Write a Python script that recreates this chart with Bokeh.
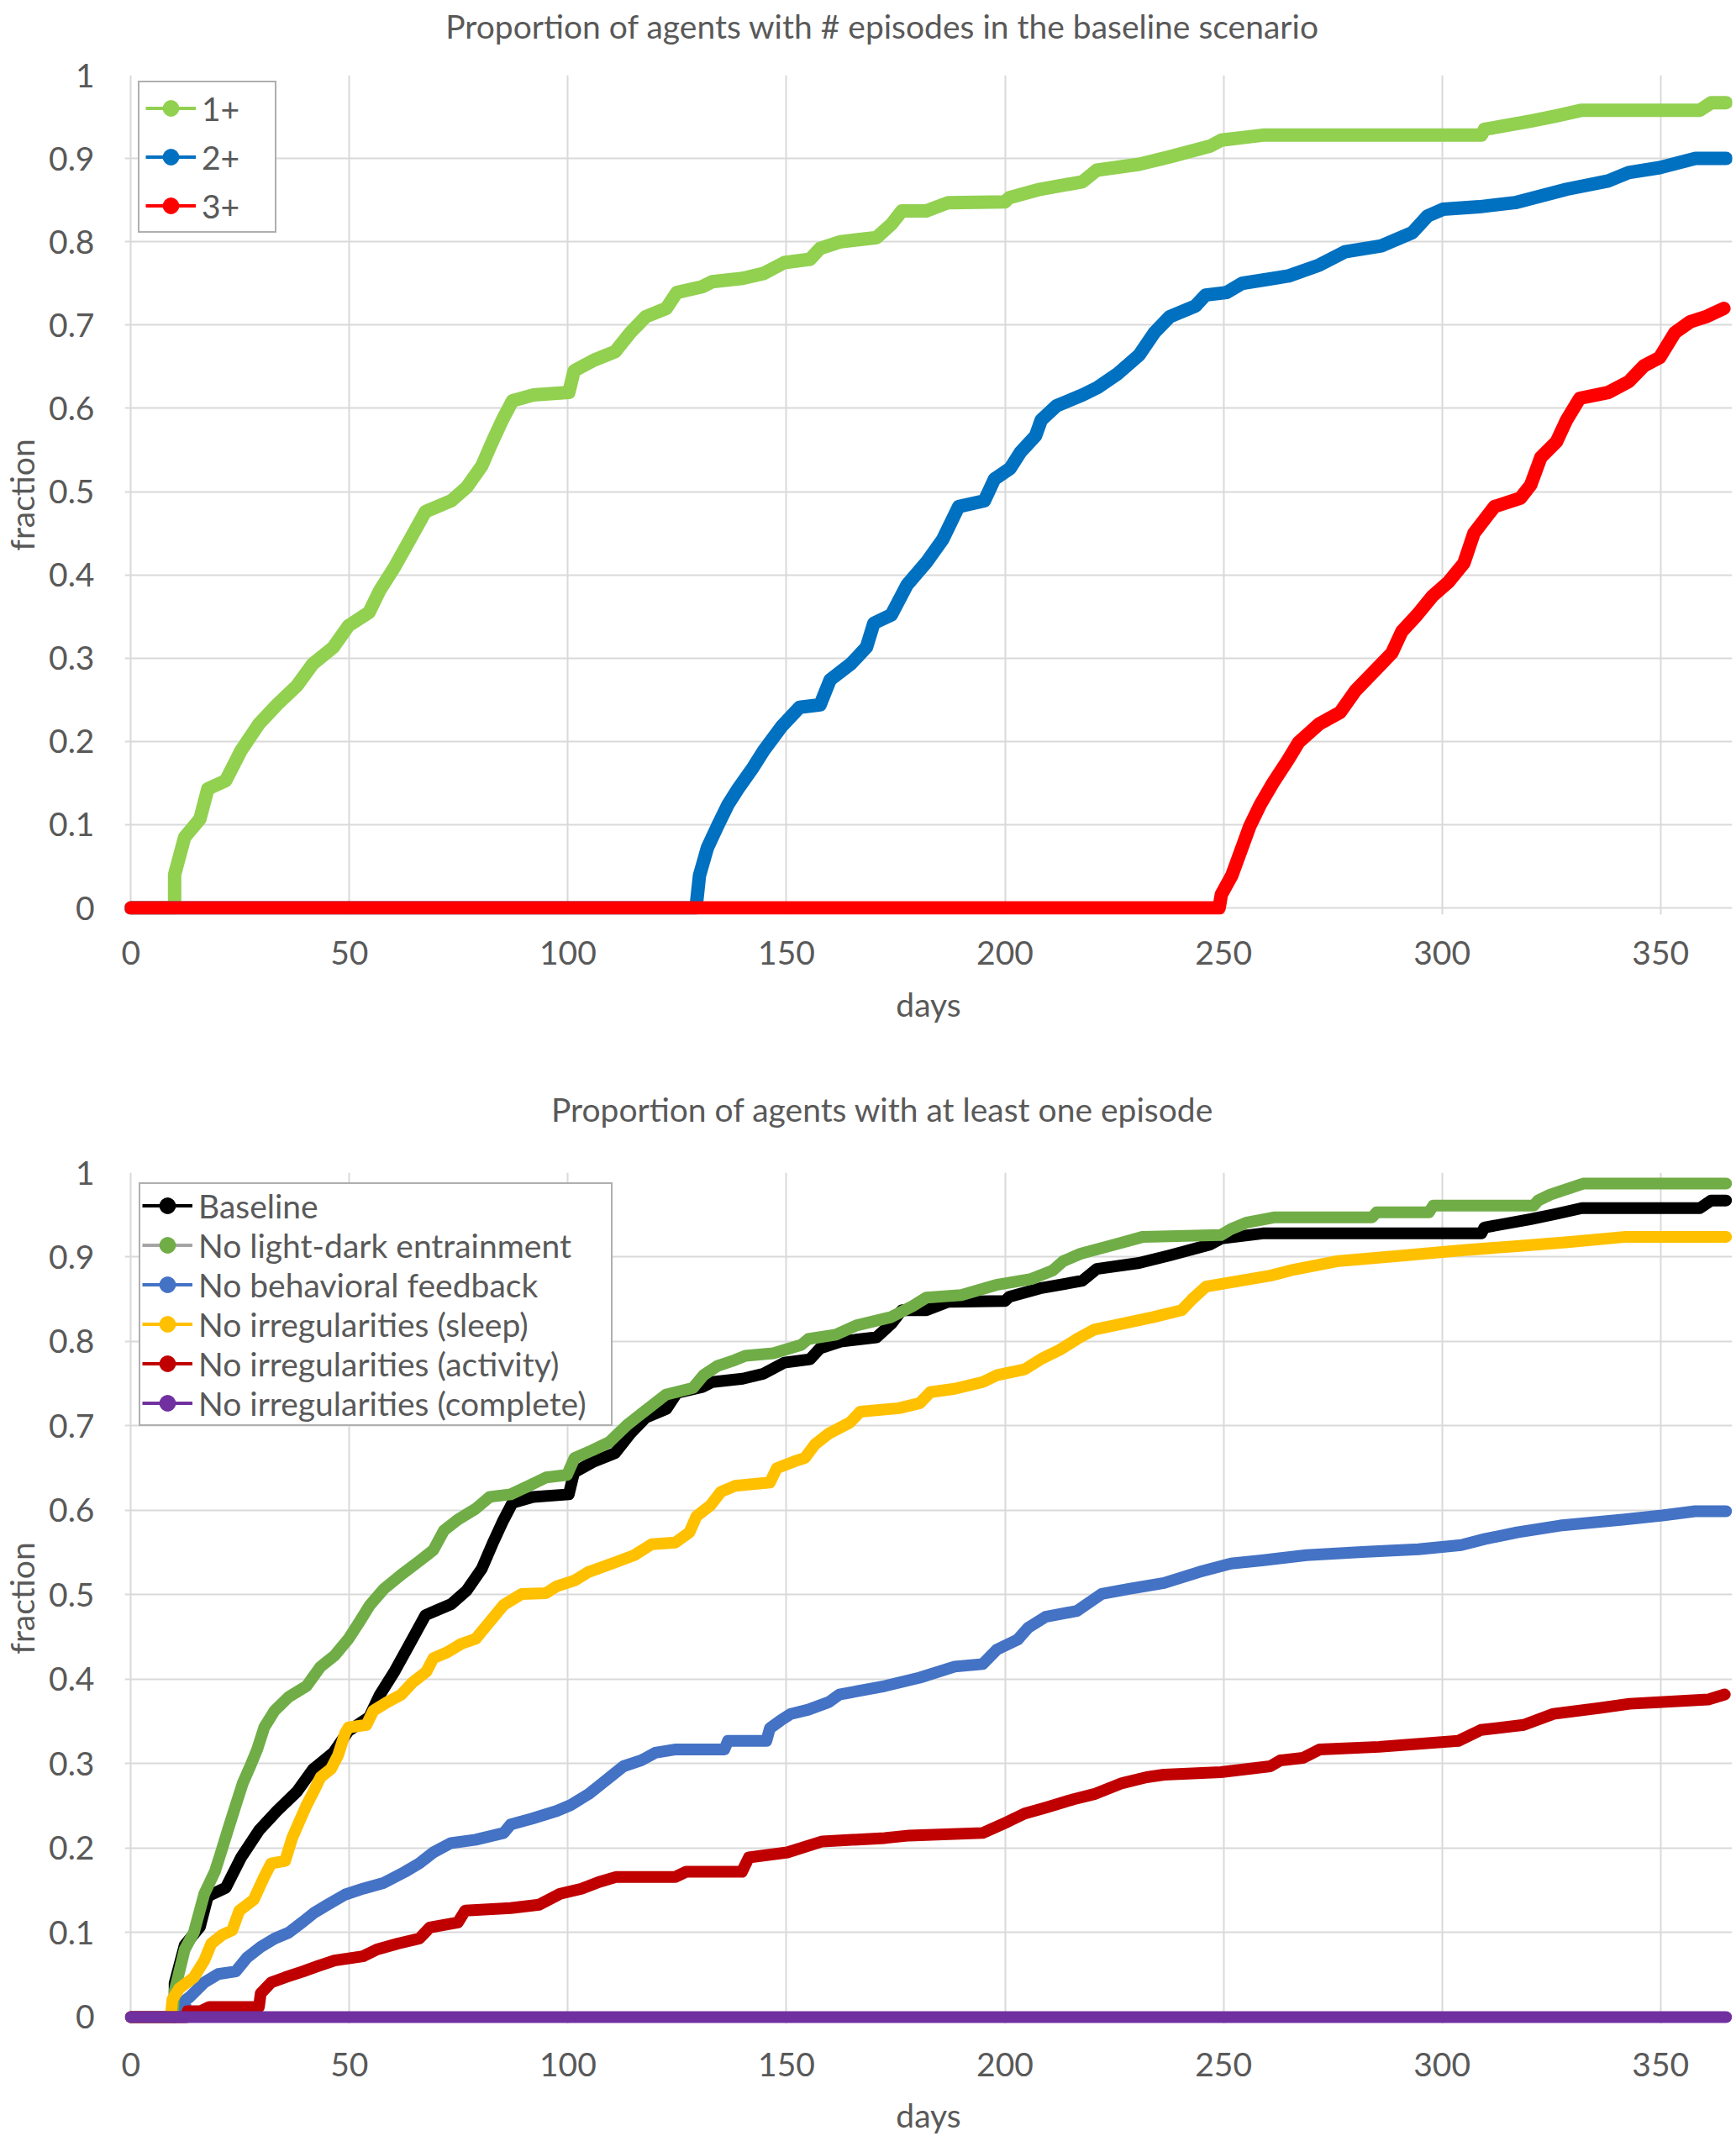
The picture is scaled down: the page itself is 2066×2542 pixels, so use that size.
from bokeh.plotting import figure
from bokeh.layouts import column
from bokeh.models import (FixedTicker, Legend, LegendItem, ColumnDataSource,
                          NumeralTickFormatter, Range1d, LinearAxis)
from bokeh.embed import file_html
from bokeh.resources import INLINE

# ---------------- data ----------------
# Top chart: baseline scenario, # episodes
ONE_PLUS_DAYS = [0, 10, 10, 12.3, 15.8, 17.6, 21.7, 25.2, 29.3, 33.4,
                 38, 41.6, 46.3, 49.8, 54.5, 56.9, 60.4, 63.9, 67.4, 73.3,
                 76.8, 80.3, 82.7, 85, 87.3, 92, 100.2, 101.4, 106, 110.8,
                 114.3, 117.8, 122.5, 124.9, 130.7, 133, 140, 144.8, 149.5, 155.4,
                 157.7, 162.4, 170.6, 174, 176.4, 182, 187, 200, 201, 208,
                 217.7, 221, 230.7, 237.7, 247, 249.5, 259, 309, 309.7, 320.3,
                 326, 332, 359, 361.6, 365]
ONE_PLUS_VALS = [0, 0, 0.04, 0.085, 0.107, 0.143, 0.153, 0.189, 0.221, 0.244,
                 0.267, 0.293, 0.313, 0.339, 0.355, 0.381, 0.410, 0.443, 0.476, 0.489,
                 0.505, 0.531, 0.560, 0.586, 0.609, 0.616, 0.619, 0.645, 0.658, 0.668,
                 0.691, 0.710, 0.720, 0.739, 0.746, 0.752, 0.756, 0.762, 0.775, 0.779,
                 0.792, 0.800, 0.805, 0.821, 0.837, 0.837, 0.847, 0.848, 0.853, 0.863,
                 0.872, 0.886, 0.893, 0.902, 0.915, 0.922, 0.928, 0.928, 0.935, 0.945,
                 0.951, 0.958, 0.958, 0.967, 0.967]

TWO_PLUS_DAYS = [0, 129.3, 130.1, 131.9, 134.2, 136.6, 138.9, 142.4, 144.8, 148.9,
                 153, 157.7, 160, 164.7, 168.3, 170, 174, 177.6, 182, 185.8,
                 189.4, 195.3, 197.6, 201.2, 203.5, 207, 208.3, 211.8, 217.7, 221.2,
                 225.9, 230.7, 234.2, 237.7, 243.6, 245.9, 250.7, 254.2, 264.9, 271.9,
                 277.8, 286.1, 293.2, 296.7, 300.2, 308.5, 316.7, 328.5, 338, 342.7,
                 349.8, 358, 365]
TWO_PLUS_VALS = [0, 0, 0.039, 0.072, 0.098, 0.124, 0.143, 0.169, 0.189, 0.218,
                 0.241, 0.244, 0.274, 0.293, 0.313, 0.342, 0.352, 0.388, 0.415, 0.443,
                 0.482, 0.489, 0.515, 0.528, 0.547, 0.567, 0.586, 0.603, 0.616, 0.625,
                 0.642, 0.664, 0.691, 0.710, 0.723, 0.736, 0.739, 0.750, 0.759, 0.772,
                 0.788, 0.795, 0.811, 0.831, 0.839, 0.842, 0.847, 0.863, 0.873, 0.883,
                 0.889, 0.900, 0.900]

THREE_PLUS_DAYS = [0, 249, 249.5, 251.9, 254.2, 256, 258.4, 261.3, 264.9, 267.2,
                   271.9, 276.7, 280.2, 283.7, 288.5, 290.8, 294.3, 297.9, 301.4, 305,
                   307.3, 312, 317.9, 320.3, 322.6, 326.2, 328.5, 331.5, 338, 342.7,
                   346.2, 349.8, 353.3, 356.8, 360.4, 364.5]
THREE_PLUS_VALS = [0, 0, 0.016, 0.039, 0.072, 0.098, 0.124, 0.150, 0.179, 0.199,
                   0.221, 0.235, 0.261, 0.280, 0.306, 0.332, 0.352, 0.375, 0.391, 0.414,
                   0.450, 0.482, 0.492, 0.508, 0.541, 0.560, 0.586, 0.612, 0.619, 0.632,
                   0.651, 0.661, 0.691, 0.704, 0.710, 0.720]

# Bottom chart: at least one episode, per scenario (Baseline = ONE_PLUS)
NO_LD_DAYS = [0, 10, 10, 12.3, 14.4, 16.8, 19.2, 20.8, 22.4, 24,
              25.6, 27.3, 28.9, 30.5, 32.9, 36.1, 40.2, 43.4, 46.6, 49.8,
              52.3, 54.7, 57.9, 61.9, 66, 69.2, 71.6, 74.8, 78.9, 82.1,
              86.9, 91, 95, 99.8, 101.5, 105.5, 109.5, 113.5, 118.4, 122.4,
              128.6, 131, 134.2, 138.2, 140.6, 147, 153.4, 155, 161.3, 166,
              174, 178.9, 182, 190, 198, 206, 210.9, 213.3, 217.3, 225.2,
              231.6, 249.4, 251.7, 255.4, 261.5, 284, 285, 297, 298, 321,
              322, 324.8, 332.3, 365]
NO_LD_VALS = [0, 0, 0.031, 0.080, 0.100, 0.146, 0.172, 0.198, 0.225, 0.251,
              0.277, 0.297, 0.317, 0.343, 0.363, 0.379, 0.392, 0.415, 0.428, 0.448,
              0.468, 0.488, 0.507, 0.524, 0.540, 0.553, 0.576, 0.589, 0.602, 0.616,
              0.619, 0.629, 0.639, 0.642, 0.662, 0.671, 0.681, 0.701, 0.721, 0.737,
              0.745, 0.760, 0.771, 0.778, 0.783, 0.786, 0.796, 0.803, 0.808, 0.819,
              0.829, 0.842, 0.852, 0.855, 0.867, 0.874, 0.884, 0.895, 0.904, 0.915,
              0.924, 0.926, 0.933, 0.941, 0.947, 0.947, 0.953, 0.953, 0.961, 0.961,
              0.967, 0.974, 0.987, 0.987]

NO_FB_DAYS = [0, 12.3, 12.5, 13.5, 16.8, 20, 24, 26.5, 29.7, 32.9,
              36.1, 39.4, 41.8, 45, 49, 53.1, 57.9, 62.7, 66, 69.2,
              73.2, 78.9, 85.3, 86.9, 91.8, 97.4, 100.6, 104.7, 107.9, 110.3,
              112.7, 116.8, 120, 124.7, 135.8, 136.6, 145.4, 146.2, 148.6, 151,
              155, 159.7, 162.1, 172.5, 180.5, 188.5, 194.9, 198.1, 202.9, 205.3,
              209.3, 216.5, 222.1, 228.4, 236.4, 244.4, 251.7, 259.2, 269, 282.6,
              294.6, 304.4, 309.7, 317.2, 327, 341.3, 350.4, 357.9, 365]
NO_FB_VALS = [0, 0, 0.020, 0.024, 0.041, 0.051, 0.054, 0.070, 0.083, 0.093,
              0.100, 0.113, 0.123, 0.133, 0.145, 0.152, 0.159, 0.172, 0.182, 0.195,
              0.206, 0.210, 0.218, 0.228, 0.235, 0.244, 0.251, 0.264, 0.277, 0.287,
              0.297, 0.304, 0.313, 0.317, 0.317, 0.327, 0.327, 0.342, 0.351, 0.359,
              0.364, 0.373, 0.382, 0.392, 0.402, 0.415, 0.418, 0.435, 0.447, 0.461,
              0.474, 0.481, 0.501, 0.507, 0.514, 0.527, 0.537, 0.541, 0.547, 0.551,
              0.554, 0.559, 0.566, 0.574, 0.582, 0.589, 0.594, 0.599, 0.599]

NO_SLEEP_DAYS = [0, 9.1, 9.5, 11.1, 14.4, 16.8, 18.4, 20.8, 23.2, 24.8,
                 28.1, 30.5, 32.1, 35.3, 36.9, 38.5, 40.2, 41.8, 43.4, 45.8,
                 47.4, 49, 49.8, 53.9, 55.5, 58.7, 61.9, 64.4, 67.6, 69.2,
                 72.4, 75.6, 78.9, 82.1, 85.3, 89.4, 95, 97.4, 101.5, 104.7,
                 111.1, 115.2, 119.2, 124.6, 127.8, 129.4, 132.6, 135, 138.2, 146.2,
                 147.8, 151.8, 154.2, 156.5, 159.7, 164.5, 166.9, 175.7, 180.5, 182.9,
                 188.5, 194.9, 198.1, 204.5, 208.5, 212.5, 216.5, 220.4, 226.8, 234,
                 240.4, 242.8, 246, 253.9, 260.7, 266, 275.8, 289.3, 304.4, 317.2,
                 329.3, 342.1, 365]
NO_SLEEP_VALS = [0, 0, 0.021, 0.034, 0.047, 0.067, 0.087, 0.097, 0.103, 0.126,
                 0.139, 0.166, 0.182, 0.185, 0.212, 0.231, 0.251, 0.267, 0.284, 0.294,
                 0.310, 0.336, 0.343, 0.346, 0.363, 0.373, 0.382, 0.396, 0.409, 0.425,
                 0.432, 0.442, 0.448, 0.468, 0.488, 0.501, 0.502, 0.510, 0.517, 0.527,
                 0.539, 0.547, 0.560, 0.562, 0.574, 0.593, 0.606, 0.622, 0.629, 0.633,
                 0.650, 0.658, 0.662, 0.678, 0.691, 0.704, 0.717, 0.721, 0.727, 0.740,
                 0.744, 0.752, 0.760, 0.767, 0.780, 0.790, 0.803, 0.814, 0.821, 0.829,
                 0.837, 0.850, 0.865, 0.872, 0.878, 0.885, 0.895, 0.901, 0.908, 0.913,
                 0.918, 0.924, 0.924]

NO_ACT_DAYS = [0, 12.7, 13, 16, 18, 29.3, 29.7, 32.1, 35.3, 39.4,
               42.6, 46.6, 53.1, 56.3, 61.1, 66, 68.4, 74.8, 76.5, 86.9,
               93.4, 98.2, 103.1, 107.1, 111.1, 124.6, 127, 139.8, 141.4, 150.2,
               158.2, 172.5, 178.1, 194.9, 200.5, 204.5, 209.3, 215.7, 220.4, 226.8,
               232.4, 236.4, 249.4, 260.7, 263, 268.2, 272, 285.6, 303.7, 308.9,
               318.7, 325.5, 336.1, 342.9, 360.9, 364.7]
NO_ACT_VALS = [0, 0, 0.007, 0.007, 0.012, 0.012, 0.028, 0.041, 0.047, 0.054,
               0.060, 0.067, 0.072, 0.080, 0.087, 0.093, 0.106, 0.112, 0.126, 0.129,
               0.133, 0.146, 0.152, 0.160, 0.166, 0.166, 0.172, 0.172, 0.189, 0.195,
               0.208, 0.212, 0.215, 0.218, 0.231, 0.241, 0.248, 0.258, 0.264, 0.277,
               0.284, 0.287, 0.290, 0.297, 0.304, 0.307, 0.317, 0.320, 0.327, 0.340,
               0.346, 0.359, 0.366, 0.371, 0.376, 0.382]

NO_ALL_DAYS = [0, 365]
NO_ALL_VALS = [0, 0]

X_TICKS = [0, 50, 100, 150, 200, 250, 300, 350]
Y_TICKS = [0, 0.1, 0.2, 0.3, 0.4, 0.5, 0.6, 0.7, 0.8, 0.9, 1.0]

TOP_TITLE = "Proportion of agents with # episodes in the baseline scenario"
BOTTOM_TITLE = "Proportion of agents with at least one episode"

TOP_SERIES = [
    ("1+", ONE_PLUS_DAYS, ONE_PLUS_VALS, "#92D050", "#92D050"),
    ("2+", TWO_PLUS_DAYS, TWO_PLUS_VALS, "#0070C0", "#0070C0"),
    ("3+", THREE_PLUS_DAYS, THREE_PLUS_VALS, "#FF0000", "#FF0000"),
]
BOTTOM_SERIES = [
    ("Baseline", ONE_PLUS_DAYS, ONE_PLUS_VALS, "#000000", "#000000"),
    ("No light-dark entrainment", NO_LD_DAYS, NO_LD_VALS, "#70AD47", "#A5A5A5"),
    ("No behavioral feedback", NO_FB_DAYS, NO_FB_VALS, "#4472C4", "#4472C4"),
    ("No irregularities (sleep)", NO_SLEEP_DAYS, NO_SLEEP_VALS, "#FFC000", "#FFC000"),
    ("No irregularities (activity)", NO_ACT_DAYS, NO_ACT_VALS, "#C00000", "#C00000"),
    ("No irregularities (complete)", NO_ALL_DAYS, NO_ALL_VALS, "#7030A0", "#7030A0"),
]

FONT = "Lato"
TXT = "#595959"
FS = "39px"
GRID = "#D9D9D9"
TITLE_AT = 172  # x position (days) over which the chart title is centred


def make_fig(title, height, border_top, border_bottom, title_standoff,
             series, lw, legend_loc, legend_kw, tick_standoff, label_standoff):
    p = figure(width=2066, height=height,
               x_range=Range1d(-1.4, 366.4), y_range=Range1d(-0.008, 1.0),
               output_backend="svg", toolbar_location=None,
               min_border_left=142, min_border_right=5,
               min_border_top=border_top, min_border_bottom=border_bottom)
    p.outline_line_color = None
    p.background_fill_color = "white"
    p.border_fill_color = "white"

    # chart title, drawn as the single label of an otherwise empty top axis
    top_axis = LinearAxis(ticker=FixedTicker(ticks=[TITLE_AT]),
                          major_label_overrides={TITLE_AT: title},
                          axis_line_color=None, major_tick_line_color=None,
                          minor_tick_line_color=None, major_tick_out=0,
                          major_tick_in=0, minor_tick_out=0,
                          major_label_standoff=title_standoff,
                          major_label_text_font=FONT,
                          major_label_text_font_size=FS,
                          major_label_text_color=TXT)
    p.add_layout(top_axis, "above")

    xax = p.below[0]
    yax = p.left[0]
    xax.ticker = FixedTicker(ticks=X_TICKS)
    yax.ticker = FixedTicker(ticks=Y_TICKS)
    yax.formatter = NumeralTickFormatter(format="0.[0]")
    for ax in (xax, yax):
        ax.axis_line_color = None
        ax.major_tick_line_color = None
        ax.minor_tick_line_color = None
        ax.major_label_text_font = FONT
        ax.major_label_text_font_size = FS
        ax.major_label_text_color = TXT
        ax.axis_label_text_font = FONT
        ax.axis_label_text_font_size = FS
        ax.axis_label_text_color = TXT
        ax.axis_label_text_font_style = "normal"
    xax.axis_label = "days"
    yax.axis_label = "fraction"
    xax.major_label_standoff = tick_standoff
    xax.axis_label_standoff = label_standoff
    yax.major_label_standoff = 30
    yax.axis_label_standoff = 6

    p.xgrid.ticker = FixedTicker(ticks=X_TICKS)
    p.ygrid.ticker = FixedTicker(ticks=Y_TICKS)
    p.grid.grid_line_color = GRID
    p.grid.grid_line_width = 2

    items = []
    for name, xs, ys, color, legend_line in series:
        src = ColumnDataSource(dict(x=xs, y=ys))
        p.line("x", "y", source=src, line_color=color, line_width=lw,
               line_join="round", line_cap="round")
        # off-range proxies, used only to draw the legend glyphs
        proxy = ColumnDataSource(dict(x=[-1000], y=[-1000]))
        lr = p.line("x", "y", source=proxy, line_color=legend_line, line_width=4)
        sr = p.scatter("x", "y", source=proxy, marker="circle", size=13,
                       fill_color=color, line_color=color)
        items.append(LegendItem(label=name, renderers=[lr, sr]))

    legend = Legend(items=items, location=legend_loc,
                    label_text_font=FONT, label_text_font_size=FS,
                    label_text_color=TXT, border_line_color="#5F5F5F",
                    border_line_width=2, background_fill_color="white",
                    background_fill_alpha=1.0, glyph_width=60,
                    label_standoff=7, **legend_kw)
    p.add_layout(legend)
    return p


# top frame: 89..1088, bottom frame: 130..1146 (figure-relative)
p1 = make_fig(TOP_TITLE, 1265, 89, 177, 36, TOP_SERIES, 16,
              (16, 811), dict(padding=7, spacing=11, label_height=47,
                              glyph_height=47, label_width=80), 25, 21)
p2 = make_fig(BOTTOM_TITLE, 1277, 130, 131, 53, BOTTOM_SERIES, 14,
              (17, 711), dict(padding=2, spacing=0, label_height=47,
                              glyph_height=47, label_width=489), 28, 20)

layout = column(p1, p2, spacing=0)
open("out.html", "w").write(file_html(layout, INLINE))
